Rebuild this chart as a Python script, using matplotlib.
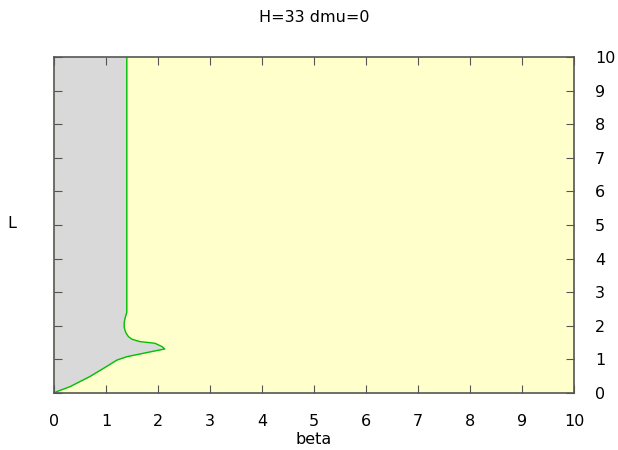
import matplotlib
matplotlib.use("Agg")
import matplotlib.pyplot as plt
import numpy as np

# Boundary curve (beta vs L)
L_vals = [0.0, 0.04, 0.19, 0.49, 0.75, 0.98, 1.08, 1.16, 1.24, 1.31, 1.38, 1.48, 1.53, 1.60, 1.68, 1.80, 1.95, 2.10, 2.25, 2.40, 3.0, 5.0, 7.5, 10.0]
beta_vals = [0.0, 0.05, 0.31, 0.69, 0.97, 1.21, 1.40, 1.65, 1.90, 2.13, 2.08, 1.94, 1.65, 1.50, 1.43, 1.38, 1.35, 1.35, 1.37, 1.40, 1.40, 1.40, 1.40, 1.40]

xticks = list(range(0, 11))
yticks = list(range(0, 11))

FS = 11.5
fig = plt.figure(figsize=(6.18, 4.5), dpi=100)
ax = fig.add_axes([54/618, 57/450, 520/618, 336/450])
ax.set_facecolor("#ffffcc")
ax.fill_betweenx(L_vals, 0, beta_vals, color="#d9d9d9", lw=0)
ax.plot(beta_vals, L_vals, color="#00c000", lw=1.0)
ax.set_xlim(0, 10)
ax.set_ylim(0, 10)
ax.set_xticks(xticks)
ax.set_yticks(yticks)
ax.tick_params(direction="in", top=True, right=True, left=True, bottom=True,
               labelleft=False, labelright=True, length=6, color="#555555", labelsize=FS)
ax.tick_params(axis="x", pad=15)
ax.tick_params(axis="y", pad=15)
for s in ax.spines.values():
    s.set_color("#555555")
    s.set_linewidth(1.2)
ax.set_xlabel("beta", fontsize=FS, va="center")
ax.xaxis.set_label_coords(0.5, -(440 - 393) / 336)
fig.text(12/618, 1 - 224/450, "L", fontsize=FS, ha="center", va="center")
fig.text(314/618, 1 - 18/450, "H=33 dmu=0", fontsize=FS, ha="center", va="center")
fig.savefig("out.png", dpi=100)
